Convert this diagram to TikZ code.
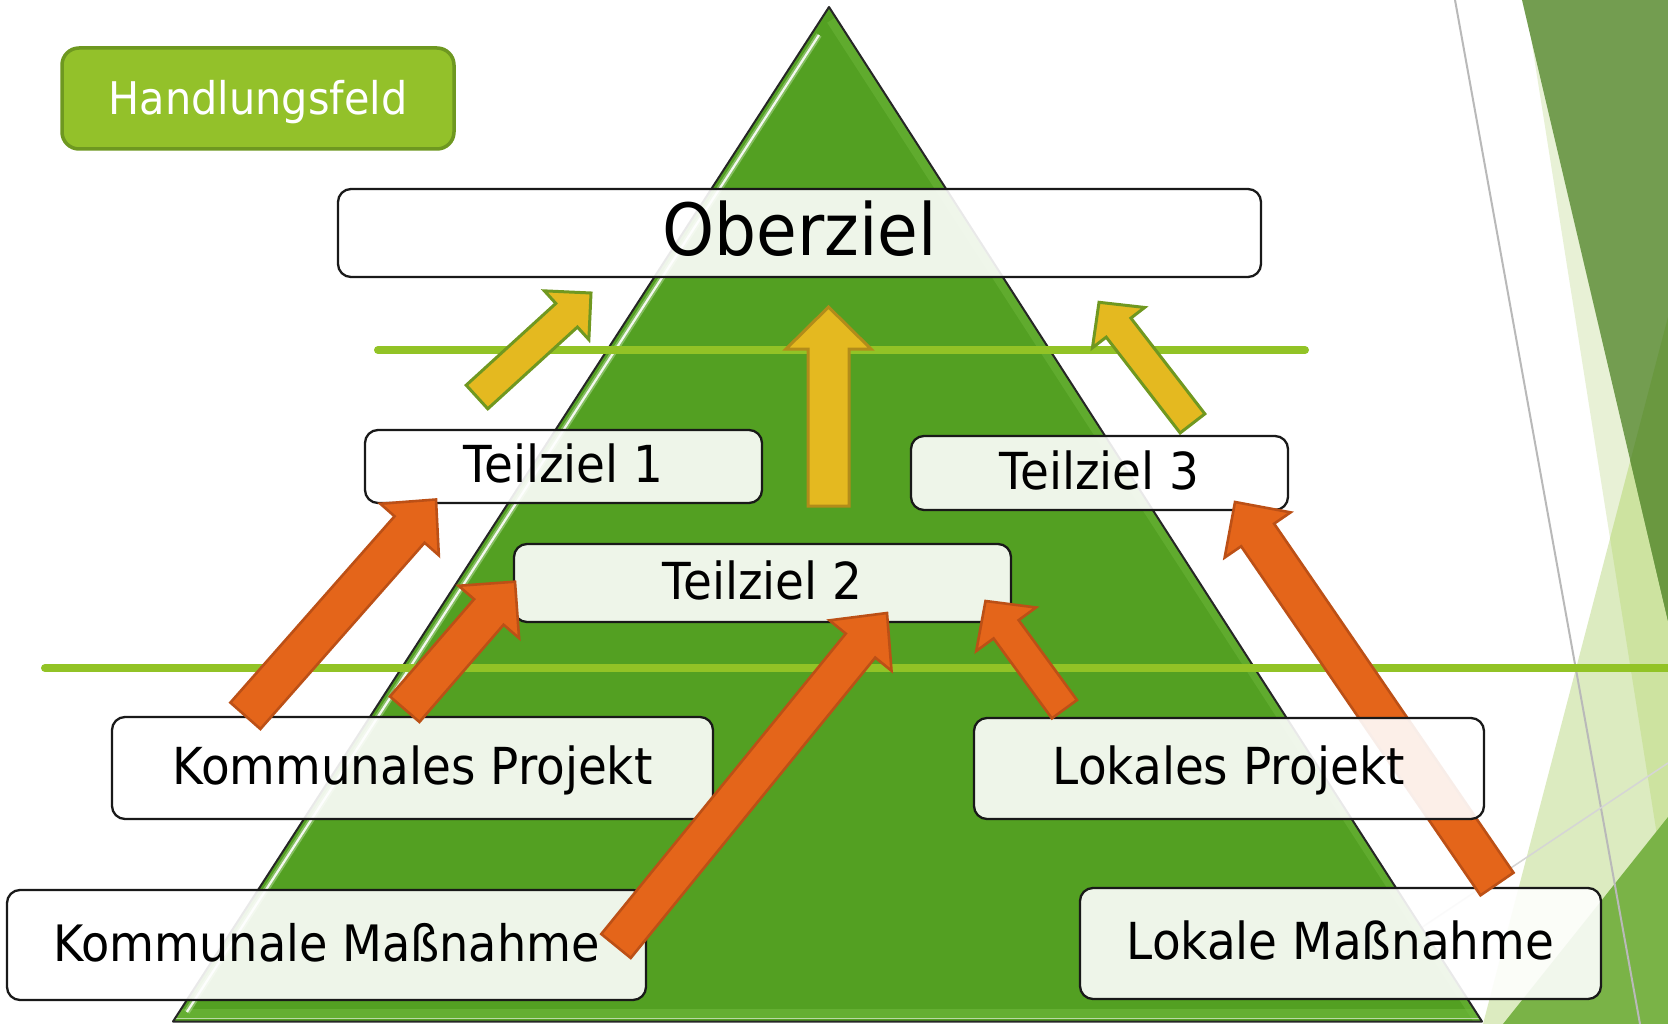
\documentclass[tikz,border=0pt]{standalone}
\usepackage{fontspec}
\newfontfamily\dvs[FakeStretch=0.92]{DejaVu Sans}
\usetikzlibrary{calc}
\definecolor{trigreen}{RGB}{83,160,34}
\definecolor{tribright}{RGB}{112,186,62}
\definecolor{linegreen}{RGB}{146,195,38}
\definecolor{hfgreen}{RGB}{147,193,42}
\definecolor{hfborder}{RGB}{110,152,32}
\definecolor{orangefill}{RGB}{228,101,26}
\definecolor{orangeedge}{RGB}{188,80,22}
\definecolor{yellowfill}{RGB}{228,185,32}
\definecolor{yellowedge}{RGB}{178,140,26}
\definecolor{oliveedge}{RGB}{112,152,32}
\definecolor{decpale}{RGB}{232,241,214}
\definecolor{declight}{RGB}{220,235,192}
\definecolor{decmix}{RGB}{205,227,160}
\definecolor{decdark}{RGB}{115,157,80}
\definecolor{decdarker}{RGB}{106,152,64}
\definecolor{decmid}{RGB}{122,179,71}
\definecolor{decgray}{RGB}{185,185,185}
\newcommand{\FontOber}{\dvs\fontsize{72}{80}\selectfont}
\newcommand{\FontBox}{\dvs\fontsize{51}{56}\selectfont}
\newcommand{\FontBoxS}{\dvs\fontsize{50.2}{56}\selectfont}
\newcommand{\FontHand}{\dvs\fontsize{45}{50}\selectfont}
% block arrow: style, tail, tip, half shaft width, half head width, head length
\newcommand{\blockarrow}[6]{%
  \coordinate (baB) at ($(#3)!#6pt!(#2)$);
  \draw[#1] ($(#2)!#4pt!90:(#3)$) -- ($(baB)!#4pt!90:(#3)$) -- ($(baB)!#5pt!90:(#3)$) -- (#3)
    -- ($(baB)!#5pt!-90:(#3)$) -- ($(baB)!#4pt!-90:(#3)$) -- ($(#2)!#4pt!-90:(#3)$) -- cycle;
}
\tikzset{
  lbl/.style={draw=black!90, line width=2.3pt, rounded corners=13pt, fill=white,
    fill opacity=0.9, text opacity=1, inner sep=0pt, text depth=5pt, text height=37.2pt,
    font=\FontBox},
  hgreen/.style={linegreen, line width=8pt, line cap=round},
  orangearrow/.style={fill=orangefill, draw=orangeedge, line width=2.6pt},
  yellowarrowA/.style={fill=yellowfill, draw=oliveedge, line width=3pt},
  yellowarrowB/.style={fill=yellowfill, draw=yellowedge, line width=3pt}
}
\begin{document}
\begin{tikzpicture}[x=1pt,y=-1pt]
\useasboundingbox (0,0) rectangle (1668,1024);
\fill[white] (0,0) rectangle (1668,1024);

% background decoration on the right
\fill[decpale] (1525,0) -- (1668,0) -- (1668,905) -- cycle;
\fill[declight] (1668,317) -- (1483,1024) -- (1668,1024) -- cycle;
\begin{scope}
  \clip (1525,0) -- (1668,0) -- (1668,905) -- cycle;
  \fill[decmix] (1668,317) -- (1483,1024) -- (1668,1024) -- cycle;
\end{scope}
\fill[decdark] (1522,0) -- (1668,0) -- (1668,621) -- cycle;
\begin{scope}
  \clip (1522,0) -- (1668,0) -- (1668,621) -- cycle;
  \fill[decdarker] (1668,317) -- (1483,1024) -- (1668,1024) -- cycle;
\end{scope}
\fill[decmid] (1668,817) -- (1503,1024) -- (1668,1024) -- cycle;
\draw[decgray, line width=2pt] (1455,0) -- (1640,1024);
\draw[decgray!60, line width=1.5pt] (1668,763) -- (1400,942);

% pyramid
\coordinate (apex) at (829,7);
\coordinate (tbl) at (173,1021.5);
\coordinate (tbr) at (1482,1021.5);
\fill[trigreen] (apex) -- (tbl) -- (tbr) -- cycle;
\begin{scope}
  \clip (apex) -- (tbl) -- (tbr) -- cycle;
  \draw[tribright, line width=10pt, opacity=0.45] (831.4,20) -- (1479,1021);
  \draw[tribright, line width=9pt, opacity=0.6] (150,1013) -- (1500,1013);
  \draw[white, line width=1.5pt, opacity=0.6] (150,1018.5) -- (1500,1018.5);
  \draw[white!50!tribright, line width=6pt, opacity=0.5] (819,35) -- (186.9,1012);
  \draw[white, line width=2.2pt, opacity=0.9] (819,35) -- (186.9,1012);
\end{scope}
\draw[black!85, line width=2pt, line join=round] (apex) -- (tbl) -- (tbr) -- cycle;

% horizontal green lines
\draw[hgreen] (378,350) -- (1305,350);
\draw[hgreen] (45,668) -- (1690,668);

% Handlungsfeld
\node[draw=hfborder, fill=hfgreen, line width=3.5pt, rounded corners=17pt,
  minimum width=392pt, minimum height=101pt, inner sep=0pt, text=white,
  font=\FontHand, text height=32.8pt, text depth=0pt] (hf) at (258,98.5) {Handlungsfeld};

% yellow arrows
\coordinate (y1t) at (477,397);   \coordinate (y1p) at (591,293);
\coordinate (y2t) at (828.5,506); \coordinate (y2p) at (828.5,307);
\coordinate (y3t) at (1192.5,423.4); \coordinate (y3p) at (1099,302.3);
\blockarrow{yellowarrowA}{y1t}{y1p}{16}{33}{33}
\blockarrow{yellowarrowB}{y2t}{y2p}{20.5}{42.5}{42}
\blockarrow{yellowarrowA}{y3t}{y3p}{15.6}{33}{32}

% goal boxes
\node[lbl, minimum width=923pt, minimum height=88pt, font=\FontOber,
  text height=52.5pt, text depth=8pt] (ober) at (799.5,233) {Oberziel};
\node[lbl, minimum width=397pt, minimum height=73pt] (tz1) at (563.5,466.5) {Teilziel 1};
\node[lbl, minimum width=497pt, minimum height=78pt] (tz2) at (762.5,583) {Teilziel 2};
\node[lbl, minimum width=377pt, minimum height=74pt] (tz3) at (1099.5,473) {Teilziel 3};

% lower boxes
\node[lbl, minimum width=601pt, minimum height=102pt] (kp) at (412.5,768) {Kommunales Projekt};
\node[lbl, minimum width=639pt, minimum height=110pt, font=\FontBoxS] (km) at (326.5,945) {Kommunale Maßnahme};
\node[lbl, minimum width=521pt, minimum height=111pt] (lm) at (1340.5,943.5) {Lokale Maßnahme};

% orange arrows
\coordinate (o1t) at (245.4,715.8); \coordinate (o1p) at (436,499.5);
\coordinate (o2t) at (404.7,709.2); \coordinate (o2p) at (515,581.7);
\coordinate (o3t) at (616,946);     \coordinate (o3p) at (887,613);
\coordinate (o4t) at (1064.4,709.2); \coordinate (o4p) at (985.5,601);
\coordinate (o5t) at (1497,884);    \coordinate (o5p) at (1235,502);
\blockarrow{orangearrow}{o5t}{o5p}{20}{40}{40}
\node[lbl, minimum width=510pt, minimum height=101pt] (lp) at (1229,768.5) {Lokales Projekt};
\blockarrow{orangearrow}{o1t}{o1p}{20}{39}{40}
\blockarrow{orangearrow}{o2t}{o2p}{19.5}{40}{40}
\blockarrow{orangearrow}{o3t}{o3p}{19}{40}{42}
\blockarrow{orangearrow}{o4t}{o4p}{15.5}{37}{35}
\end{tikzpicture}
\end{document}
